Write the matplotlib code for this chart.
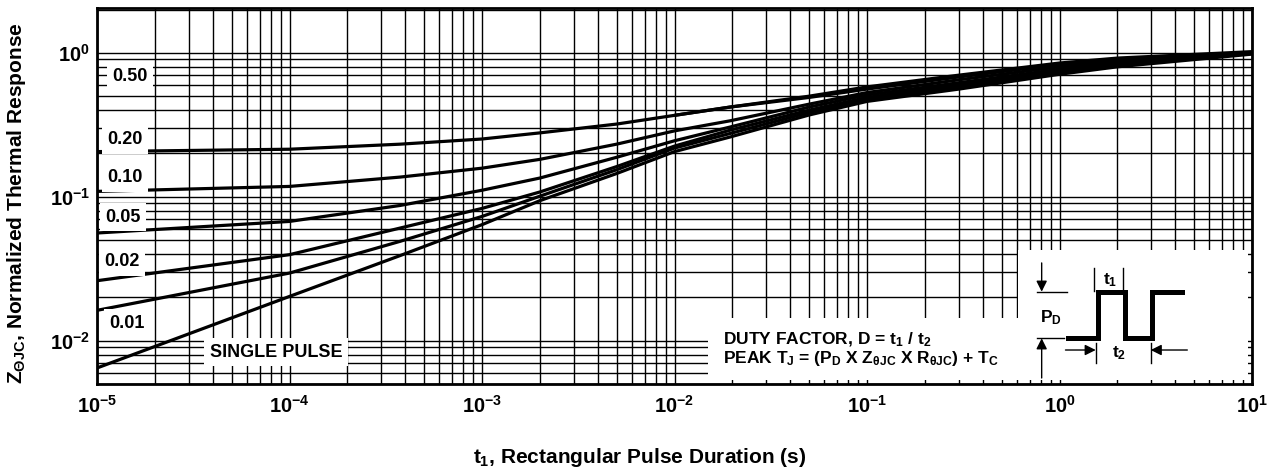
import numpy as np
import matplotlib
matplotlib.use("Agg")
import matplotlib.pyplot as plt
from matplotlib.patches import Rectangle

plt.rcParams['font.family'] = ['Liberation Sans', 'DejaVu Sans']
plt.rcParams['font.weight'] = 'bold'
plt.rcParams['mathtext.fontset'] = 'custom'
plt.rcParams['mathtext.rm'] = 'Liberation Sans:bold'
plt.rcParams['mathtext.it'] = 'Liberation Sans:bold'
plt.rcParams['mathtext.bf'] = 'Liberation Sans:bold'

# pulse duration (s) where the curves were read
t_pts = [1e-5, 1e-4, 3.75e-4, 1e-3, 2e-3, 5e-3, 1e-2, 1.94e-2, 0.05, 0.1, 0.3, 1.0, 2.0, 10.0]

# normalized thermal response per duty factor
z_single = [0.00646, 0.0203, 0.039, 0.064, 0.094, 0.145, 0.206, 0.26, 0.37, 0.46, 0.56, 0.71, 0.80, 0.98]
z_001 = [0.01625, 0.0295, 0.049, 0.073, 0.101, 0.154, 0.218, 0.275, 0.385, 0.475, 0.58, 0.73, 0.82, 0.99]
z_002 = [0.0261, 0.0396, 0.0606, 0.083, 0.108, 0.162, 0.225, 0.29, 0.40, 0.49, 0.60, 0.75, 0.84, 1.0]
z_005 = [0.056, 0.0674, 0.087, 0.111, 0.135, 0.188, 0.245, 0.305, 0.42, 0.51, 0.62, 0.77, 0.86, 1.0]
z_010 = [0.109, 0.118, 0.137, 0.158, 0.182, 0.232, 0.287, 0.337, 0.44, 0.53, 0.65, 0.80, 0.88, 1.0]
z_020 = [0.206, 0.214, 0.232, 0.252, 0.278, 0.32, 0.368, 0.42, 0.49, 0.56, 0.68, 0.83, 0.90, 1.0]
# the 0.50 curve only shows where it joins the bundle
t_050 = [1e-2, 1.94e-2, 0.05, 0.1, 0.3, 1.0, 2.0, 10.0]
z_050 = [0.368, 0.42, 0.50, 0.58, 0.70, 0.85, 0.92, 1.02]

curves = [(t_pts, z_single), (t_pts, z_001), (t_pts, z_002), (t_pts, z_005),
          (t_pts, z_010), (t_pts, z_020), (t_050, z_050)]
curve_labels = ['SINGLE PULSE', '0.01', '0.02', '0.05', '0.10', '0.20', '0.50']

x_ticks = [1e-5, 1e-4, 1e-3, 1e-2, 1e-1, 1e0, 1e1]
x_ticklabels = [r'$10^{-5}$', r'$10^{-4}$', r'$10^{-3}$', r'$10^{-2}$',
                r'$10^{-1}$', r'$10^{0}$', r'$10^{1}$']
y_ticks = [1e-2, 1e-1, 1e0]
y_ticklabels = [r'$10^{-2}$', r'$10^{-1}$', r'$10^{0}$']

fig = plt.figure(figsize=(12.73, 4.68), dpi=100)
ax = fig.add_axes([97 / 1273, 84 / 468, 1155 / 1273, 376 / 468])

for t, z in curves:
    ax.plot(t, z, color='black', lw=2.3, zorder=3, solid_capstyle='butt')

ax.set_xscale('log')
ax.set_yscale('log')
ax.set_xlim(1e-5, 10)
ax.set_ylim(0.005, 2.05)

ax.grid(True, which='both', color='black', lw=1.0)
ax.set_axisbelow(True)
ax.set_xticks(x_ticks)
ax.set_xticklabels(x_ticklabels)
ax.set_yticks(y_ticks)
ax.set_yticklabels(y_ticklabels)
ax.tick_params(which='both', length=0, labelsize=14.5)
ax.tick_params(axis='x', pad=8)
ax.tick_params(axis='y', pad=5)
for s in ax.spines.values():
    s.set_linewidth(2.0)

ax.set_xlabel(r'$t_1$, Rectangular Pulse Duration (s)', fontsize=15, fontweight='bold')
ax.xaxis.set_label_coords(0.470, -0.165)
ax.set_ylabel(r'Z$_{\Theta JC}$, Normalized Thermal Response', fontsize=15,
              fontweight='bold')
ax.yaxis.set_label_coords(-0.060, 0.481)

# curve labels with white boxes
lab_pos = {'0.50': (0.0286, 0.8165), '0.20': (0.0242, 0.649), '0.10': (0.0242, 0.548),
           '0.05': (0.0225, 0.444), '0.02': (0.0216, 0.3245), '0.01': (0.026, 0.162),
           'SINGLE PULSE': (0.155, 0.085)}
for name in curve_labels:
    px, py = lab_pos[name]
    ax.text(px, py, name, transform=ax.transAxes, ha='center', va='center',
            fontsize=13, fontweight='bold', zorder=5,
            bbox=dict(facecolor='white', edgecolor='none', boxstyle='square,pad=0.3'))

# white areas for the notes and the pulse sketch
ax.add_patch(Rectangle((0.529, 0.0106), 0.268, 0.165, transform=ax.transAxes,
                       facecolor='white', edgecolor='none', zorder=4))
ax.add_patch(Rectangle((0.797, 0.0106), 0.1995, 0.3454, transform=ax.transAxes,
                       facecolor='white', edgecolor='none', zorder=4))

ax.text(0.542, 0.117, r'DUTY FACTOR, D = t$_1$ / t$_2$', transform=ax.transAxes,
        ha='left', va='center', fontsize=12.5, fontweight='bold', zorder=6)
ax.text(0.542, 0.069, r'PEAK T$_J$ = (P$_D$ X Z$_{\theta JC}$ X R$_{\theta JC}$) + T$_C$',
        transform=ax.transAxes, ha='left', va='center', fontsize=12.5,
        fontweight='bold', zorder=6)

# pulse waveform sketch
wx = [0.8407, 0.8667, 0.8667, 0.890, 0.890, 0.9134, 0.9134, 0.9394]
wy = [0.1215, 0.1215, 0.2455, 0.2455, 0.1215, 0.1215, 0.2455, 0.2455]
ax.plot(wx, wy, transform=ax.transAxes, color='black', lw=3.6, zorder=6,
        solid_joinstyle='miter', clip_on=False)

thin = dict(transform=ax.transAxes, color='black', lw=1.0, zorder=6)
ax.plot([0.8139, 0.8398], [0.2455, 0.2455], **thin)
ax.plot([0.8139, 0.8370], [0.1215, 0.1215], **thin)
ax.plot([0.8632, 0.8632], [0.247, 0.3085], **thin)
ax.plot([0.8883, 0.8883], [0.247, 0.3085], **thin)
ax.plot([0.8647, 0.8647], [0.056, 0.109], **thin)
ax.plot([0.9123, 0.9123], [0.056, 0.109], **thin)

arr = dict(arrowstyle='-|>', color='black', lw=1.0, mutation_scale=16,
           shrinkA=0, shrinkB=0)
for start, end in [((0.8179, 0.322), (0.8179, 0.2455)),
                   ((0.8179, 0.016), (0.8179, 0.1215)),
                   ((0.8385, 0.0904), (0.8647, 0.0904)),
                   ((0.9440, 0.0904), (0.9123, 0.0904))]:
    ax.annotate('', xy=end, xytext=start, xycoords='axes fraction',
                textcoords='axes fraction', arrowprops=arr, zorder=6)

ax.text(0.8165, 0.1755, r'P$_D$', transform=ax.transAxes, ha='left', va='center',
        fontsize=12.5, fontweight='bold', zorder=6)
ax.text(0.877, 0.2766, r't$_1$', transform=ax.transAxes, ha='center', va='center',
        fontsize=12.5, fontweight='bold', zorder=6)
ax.text(0.885, 0.0824, r't$_2$', transform=ax.transAxes, ha='center', va='center',
        fontsize=12.5, fontweight='bold', zorder=6)

fig.savefig('out.png', dpi=100)
